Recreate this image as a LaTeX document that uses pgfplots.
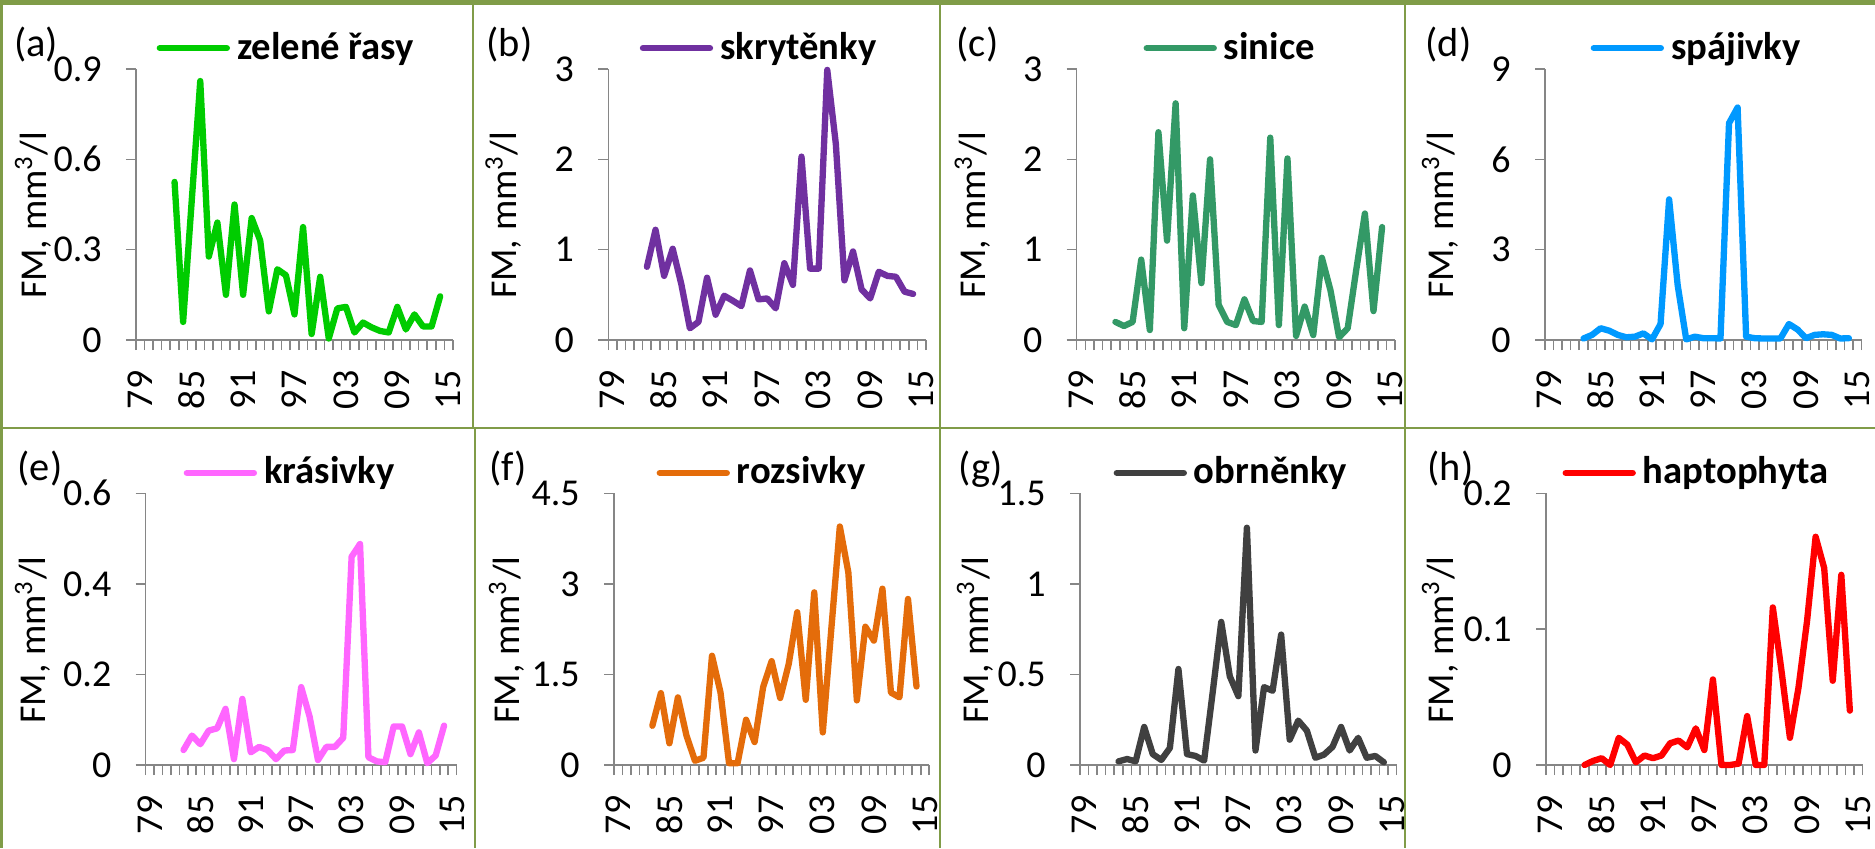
\documentclass[border=0pt]{standalone}
\usepackage{pgfplots}
\pgfplotsset{compat=1.18}
\usepackage{fontspec}
\setmainfont{Carlito}
\definecolor{photo}{RGB}{128,156,72}
\definecolor{axgray}{RGB}{134,134,134}
\definecolor{cA}{RGB}{0,204,0}
\definecolor{cB}{RGB}{112,48,160}
\definecolor{cC}{RGB}{51,153,102}
\definecolor{cD}{RGB}{0,153,255}
\definecolor{cE}{RGB}{255,102,255}
\definecolor{cF}{RGB}{228,108,10}
\definecolor{cG}{RGB}{64,64,64}
\definecolor{cH}{RGB}{255,0,0}
\newcommand{\tickfont}{\fontsize{10.8pt}{13pt}\selectfont}
\newcommand{\legfont}{\fontsize{11pt}{13pt}\selectfont\bfseries}
\newcommand{\panfont}{\fontsize{11.5pt}{13pt}\selectfont}
\pgfplotsset{panel/.style={
  scale only axis, axis lines=left, axis line style={draw=axgray, line width=0.45pt, -},
  xmin=1978.5, xmax=2015.5, ymin=0,
  xtick={1979,1985,1991,1997,2003,2009,2015},
  xticklabels={79,85,91,97,03,09,15},
  minor xtick={1978.5,1979.5,...,2015.5},
  major x tick style={draw=none},
  tick align=outside, major tick length=1mm, minor tick length=1mm,
  tick style={draw=axgray, line width=0.45pt},
  tick label style={font=\tickfont},
  xticklabel style={rotate=90, anchor=east, inner xsep=2.0mm, inner ysep=0pt},
  yticklabel style={anchor=east, xshift=-1.2mm},
  clip=false,
  ylabel={FM, mm\textsuperscript{3}/l},
  ylabel style={anchor=center, font=\tickfont},
  legend style={draw=none, fill=none, anchor=west, inner sep=0pt, column sep=0.7mm, nodes={inner sep=0pt}, font=\legfont},
  legend image code/.code={\draw[#1, line cap=round] (0.3mm,0mm) -- (7.0mm,0mm);},
  every axis plot/.append style={line width=1.8pt, line join=round, line cap=round},
}}
\begin{document}
\begin{tikzpicture}
\useasboundingbox (0,0) rectangle (187.5mm,84.8mm);
\fill[photo] (0,0) rectangle (187.5mm,84.8mm);
\fill[white] (0.3mm,42.1mm) rectangle (47.2mm,84.3mm);
\fill[white] (47.4mm,42.1mm) rectangle (93.9mm,84.3mm);
\fill[white] (94.1mm,42.1mm) rectangle (140.4mm,84.3mm);
\fill[white] (140.6mm,42.1mm) rectangle (187.5mm,84.3mm);
\fill[white] (0.3mm,0mm) rectangle (47.4mm,41.9mm);
\fill[white] (47.6mm,0mm) rectangle (93.9mm,41.9mm);
\fill[white] (94.1mm,0mm) rectangle (140.4mm,41.9mm);
\fill[white] (140.6mm,0mm) rectangle (187.5mm,41.9mm);

% (a)
\begin{axis}[panel, at={(13.6mm,50.8mm)}, anchor=south west, width=31.7mm, height=27.1mm,
  ymax=0.9, ytick={0,0.3,0.6,0.9}, yticklabels={0,0.3,0.6,0.9},
  ylabel style={at={(axis description cs:-0.325,0.46)}},
  legend style={at={(axis description cs:0.063,1.077)}}]
\addplot[cA] coordinates {(1983,0.525)(1984,0.06)(1985,0.46)(1986,0.86)(1987,0.277)(1988,0.39)(1989,0.15)(1990,0.45)(1991,0.15)(1992,0.405)(1993,0.33)(1994,0.095)(1995,0.235)(1996,0.215)(1997,0.085)(1998,0.375)(1999,0.02)(2000,0.21)(2001,0.005)(2002,0.105)(2003,0.11)(2004,0.025)(2005,0.058)(2006,0.042)(2007,0.03)(2008,0.025)(2009,0.11)(2010,0.035)(2011,0.085)(2012,0.045)(2013,0.045)(2014,0.145)};
\addlegendentry{zelené řasy}
\end{axis}

% (b)
\begin{axis}[panel, at={(60.83mm,50.8mm)}, anchor=south west, width=31.77mm, height=27.1mm,
  ymax=3, ytick={0,1,2,3}, yticklabels={0,1,2,3},
  ylabel style={at={(axis description cs:-0.33,0.46)}},
  legend style={at={(axis description cs:0.097,1.077)}}]
\addplot[cB] coordinates {(1983,0.81)(1984,1.22)(1985,0.71)(1986,1.01)(1987,0.62)(1988,0.13)(1989,0.2)(1990,0.69)(1991,0.28)(1992,0.49)(1993,0.435)(1994,0.375)(1995,0.77)(1996,0.45)(1997,0.46)(1998,0.35)(1999,0.85)(2000,0.61)(2001,2.03)(2002,0.79)(2003,0.79)(2004,2.99)(2005,2.17)(2006,0.66)(2007,0.98)(2008,0.56)(2009,0.46)(2010,0.755)(2011,0.71)(2012,0.70)(2013,0.535)(2014,0.51)};
\addlegendentry{skrytěnky}
\end{axis}

% (c)
\begin{axis}[panel, at={(107.67mm,50.8mm)}, anchor=south west, width=31.83mm, height=27.1mm,
  ymax=3, ytick={0,1,2,3}, yticklabels={0,1,2,3},
  ylabel style={at={(axis description cs:-0.327,0.46)}},
  legend style={at={(axis description cs:0.208,1.077)}}]
\addplot[cC] coordinates {(1983,0.2)(1984,0.155)(1985,0.2)(1986,0.89)(1987,0.11)(1988,2.30)(1989,1.10)(1990,2.62)(1991,0.13)(1992,1.60)(1993,0.63)(1994,2.00)(1995,0.39)(1996,0.2)(1997,0.165)(1998,0.45)(1999,0.21)(2000,0.2)(2001,2.24)(2002,0.165)(2003,2.01)(2004,0.045)(2005,0.37)(2006,0.055)(2007,0.91)(2008,0.55)(2009,0.03)(2010,0.13)(2011,0.78)(2012,1.40)(2013,0.32)(2014,1.25)};
\addlegendentry{sinice}
\end{axis}

% (d)
\begin{axis}[panel, at={(154.5mm,50.8mm)}, anchor=south west, width=31.67mm, height=27.1mm,
  ymax=9, ytick={0,3,6,9}, yticklabels={0,3,6,9},
  ylabel style={at={(axis description cs:-0.332,0.46)}},
  legend style={at={(axis description cs:0.142,1.077)}}]
\addplot[cD] coordinates {(1983,0.05)(1984,0.17)(1985,0.39)(1986,0.31)(1987,0.17)(1988,0.09)(1989,0.11)(1990,0.22)(1991,0.02)(1992,0.53)(1993,4.67)(1994,1.82)(1995,0.02)(1996,0.11)(1997,0.06)(1998,0.06)(1999,0.05)(2000,7.2)(2001,7.72)(2002,0.11)(2003,0.06)(2004,0.05)(2005,0.05)(2006,0.05)(2007,0.53)(2008,0.35)(2009,0.06)(2010,0.17)(2011,0.19)(2012,0.17)(2013,0.05)(2014,0.06)};
\addlegendentry{spájivky}
\end{axis}

% (e)
\begin{axis}[panel, at={(14.57mm,8.3mm)}, anchor=south west, width=31.1mm, height=27.17mm,
  ymax=0.6, ytick={0,0.2,0.4,0.6}, yticklabels={0,0.2,0.4,0.6},
  ylabel style={at={(axis description cs:-0.363,0.46)}},
  legend style={at={(axis description cs:0.12,1.075)}}]
\addplot[cE] coordinates {(1983,0.033)(1984,0.065)(1985,0.046)(1986,0.076)(1987,0.081)(1988,0.124)(1989,0.013)(1990,0.146)(1991,0.028)(1992,0.04)(1993,0.033)(1994,0.013)(1995,0.032)(1996,0.033)(1997,0.172)(1998,0.107)(1999,0.011)(2000,0.04)(2001,0.04)(2002,0.06)(2003,0.46)(2004,0.488)(2005,0.017)(2006,0.008)(2007,0.006)(2008,0.085)(2009,0.085)(2010,0.024)(2011,0.072)(2012,0.004)(2013,0.021)(2014,0.087)};
\addlegendentry{krásivky}
\end{axis}

% (f)
\begin{axis}[panel, at={(61.4mm,8.3mm)}, anchor=south west, width=31.53mm, height=27.17mm,
  ymax=4.5, ytick={0,1.5,3,4.5}, yticklabels={0,1.5,3,4.5},
  ylabel style={at={(axis description cs:-0.34,0.46)}},
  legend style={at={(axis description cs:0.133,1.075)}}]
\addplot[cF] coordinates {(1983,0.65)(1984,1.19)(1985,0.36)(1986,1.12)(1987,0.49)(1988,0.07)(1989,0.12)(1990,1.81)(1991,1.2)(1992,0.03)(1993,0.03)(1994,0.75)(1995,0.38)(1996,1.29)(1997,1.72)(1998,1.11)(1999,1.67)(2000,2.53)(2001,1.08)(2002,2.86)(2003,0.54)(2004,2.25)(2005,3.95)(2006,3.19)(2007,1.07)(2008,2.29)(2009,2.06)(2010,2.92)(2011,1.2)(2012,1.12)(2013,2.75)(2014,1.30)};
\addlegendentry{rozsivky}
\end{axis}

% (g)
\begin{axis}[panel, at={(108.0mm,8.3mm)}, anchor=south west, width=31.67mm, height=27.17mm,
  ymax=1.5, ytick={0,0.5,1,1.5}, yticklabels={0,0.5,1,1.5},
  ylabel style={at={(axis description cs:-0.332,0.46)}},
  legend style={at={(axis description cs:0.104,1.075)}}]
\addplot[cG] coordinates {(1983,0.02)(1984,0.033)(1985,0.02)(1986,0.21)(1987,0.06)(1988,0.028)(1989,0.094)(1990,0.53)(1991,0.06)(1992,0.05)(1993,0.024)(1994,0.40)(1995,0.79)(1996,0.49)(1997,0.38)(1998,1.31)(1999,0.08)(2000,0.43)(2001,0.41)(2002,0.72)(2003,0.14)(2004,0.245)(2005,0.19)(2006,0.04)(2007,0.057)(2008,0.10)(2009,0.21)(2010,0.08)(2011,0.15)(2012,0.04)(2013,0.05)(2014,0.015)};
\addlegendentry{obrněnky}
\end{axis}

% (h)
\begin{axis}[panel, at={(154.6mm,8.3mm)}, anchor=south west, width=31.67mm, height=27.17mm,
  ymax=0.2, ytick={0,0.1,0.2}, yticklabels={0,0.1,0.2},
  ylabel style={at={(axis description cs:-0.335,0.46)}},
  legend style={at={(axis description cs:0.05,1.075)}}]
\addplot[cH] coordinates {(1983,0.0)(1984,0.003)(1985,0.005)(1986,0.0)(1987,0.02)(1988,0.015)(1989,0.002)(1990,0.007)(1991,0.005)(1992,0.007)(1993,0.016)(1994,0.018)(1995,0.013)(1996,0.027)(1997,0.011)(1998,0.063)(1999,0.0)(2000,0.0)(2001,0.001)(2002,0.036)(2003,0.0)(2004,0.0)(2005,0.116)(2006,0.07)(2007,0.02)(2008,0.057)(2009,0.106)(2010,0.168)(2011,0.145)(2012,0.062)(2013,0.14)(2014,0.04)};
\addlegendentry{haptophyta}
\end{axis}

\node[anchor=west, inner sep=0pt, font=\panfont] at (1.33mm,80.3mm) {(a)};
\node[anchor=west, inner sep=0pt, font=\panfont] at (48.6mm,80.3mm) {(b)};
\node[anchor=west, inner sep=0pt, font=\panfont] at (95.6mm,80.3mm) {(c)};
\node[anchor=west, inner sep=0pt, font=\panfont] at (142.5mm,80.3mm) {(d)};
\node[anchor=west, inner sep=0pt, font=\panfont] at (1.7mm,37.9mm) {(e)};
\node[anchor=west, inner sep=0pt, font=\panfont] at (48.9mm,37.9mm) {(f)};
\node[anchor=west, inner sep=0pt, font=\panfont] at (95.8mm,37.9mm) {(g)};
\node[anchor=west, inner sep=0pt, font=\panfont] at (142.7mm,37.9mm) {(h)};
\end{tikzpicture}
\end{document}
